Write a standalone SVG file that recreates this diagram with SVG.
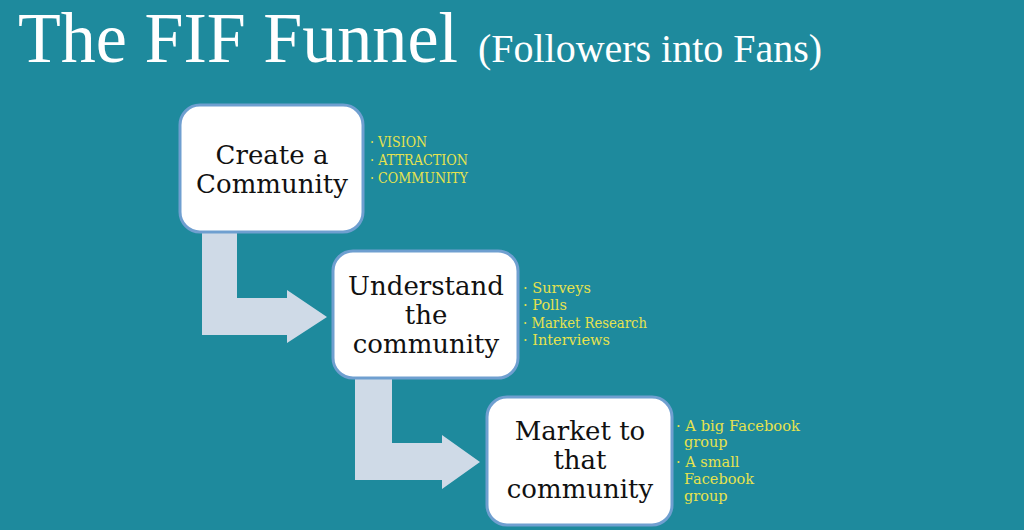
<svg xmlns="http://www.w3.org/2000/svg" width="1024" height="530" viewBox="0 0 1024 530">
<style>
.title{font-family:"Liberation Serif","DejaVu Serif",serif;fill:#ffffff}
.box{fill:#ffffff;stroke:#6f9fd0;stroke-width:3}
.lbl{font-family:"DejaVu Serif","Liberation Serif",serif;font-size:26px;fill:#111111;text-anchor:middle}
.note{font-family:"DejaVu Serif","Liberation Serif",serif;font-size:14.5px;fill:#e6e24e}
.arrow{fill:#cfdae7}
</style>
<rect x="0" y="0" width="1024" height="530" fill="#1e8a9d"/>
<text class="title" x="18" y="62" font-size="72" textLength="440" lengthAdjust="spacingAndGlyphs">The FIF Funnel</text>
<text class="title" x="478" y="62" font-size="40" textLength="344" lengthAdjust="spacingAndGlyphs">(Followers into Fans)</text>
<g id="connectors">
<path class="arrow" d="M202,233 L237,233 L237,298 L287,298 L287,290 L327,317 L287,343 L287,335 L202,335 Z"/>
<path class="arrow" d="M355,379 L392,379 L392,443 L442,443 L442,435 L480,462 L442,489 L442,480 L355,480 Z"/>
</g>
<g id="node-create">
<rect class="box" x="180" y="105" width="183" height="127" rx="20"/>
<text class="lbl" x="272" y="164">Create a</text>
<text class="lbl" x="272" y="193">Community</text>
<text class="note" x="370" y="147" textLength="57" lengthAdjust="spacingAndGlyphs">· VISION</text>
<text class="note" x="370" y="165" textLength="98" lengthAdjust="spacingAndGlyphs">· ATTRACTION</text>
<text class="note" x="370" y="183" textLength="98" lengthAdjust="spacingAndGlyphs">· COMMUNITY</text>
</g>
<g id="node-understand">
<rect class="box" x="333" y="251" width="185" height="127" rx="20"/>
<text class="lbl" x="426" y="295">Understand</text>
<text class="lbl" x="426" y="324">the</text>
<text class="lbl" x="426" y="353">community</text>
<text class="note" x="523" y="293">· Surveys</text>
<text class="note" x="523" y="310">· Polls</text>
<text class="note" x="523" y="328" textLength="124" lengthAdjust="spacingAndGlyphs">· Market Research</text>
<text class="note" x="523" y="345">· Interviews</text>
</g>
<g id="node-market">
<rect class="box" x="487" y="397" width="185" height="128" rx="20"/>
<text class="lbl" x="580" y="440">Market to</text>
<text class="lbl" x="580" y="469">that</text>
<text class="lbl" x="580" y="498">community</text>
<text class="note" x="676" y="431" font-size="15" textLength="124" lengthAdjust="spacingAndGlyphs">· A big Facebook</text>
<text class="note" x="684" y="447" font-size="15">group</text>
<text class="note" x="676" y="467" font-size="15">· A small</text>
<text class="note" x="684" y="484" font-size="15">Facebook</text>
<text class="note" x="684" y="501" font-size="15">group</text>
</g>
</svg>
